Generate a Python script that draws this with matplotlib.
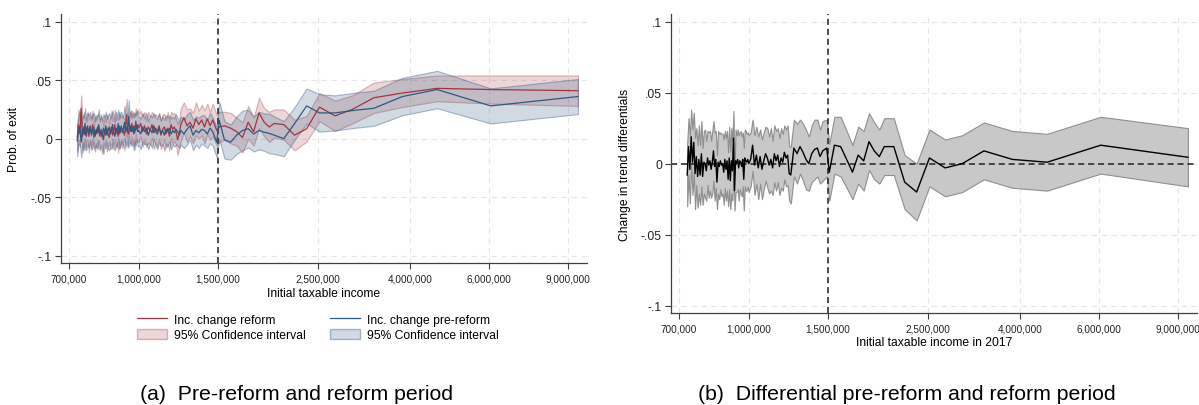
import matplotlib
matplotlib.use("Agg")
import matplotlib.pyplot as plt
from matplotlib.lines import Line2D
from matplotlib.patches import Patch
from matplotlib.ticker import NullLocator

plt.rcParams['font.family'] = ['Liberation Sans', 'DejaVu Sans']

# income bins, in thousands
income = [
    730, 735, 740, 745, 750, 755, 760, 765, 770, 775,
    780, 785, 790, 795, 800, 805, 810, 815, 820, 825,
    830, 835, 840, 845, 850, 855, 860, 865, 870, 875,
    880, 885, 890, 895, 900, 905, 910, 915, 920, 925,
    930, 935, 940, 945, 950, 955, 960, 965, 970, 975,
    980, 985, 990, 995,
    1000, 1010, 1020, 1030, 1040, 1050, 1060, 1070, 1080, 1090,
    1100, 1110, 1120, 1130, 1140, 1150, 1160, 1170, 1180, 1190,
    1200, 1210, 1220, 1230, 1240,
    1260, 1280, 1300, 1320, 1340, 1360, 1380, 1400, 1420, 1440, 1460, 1490,
    1510, 1550, 1600, 1650, 1700, 1750, 1800, 1850, 1900, 1950, 2000,
    2100, 2220, 2360, 2520, 2730, 2980, 3330, 3850, 4600, 6050, 9450,
]

# (a) reform period estimate and CI half-width
reform = [
    0.001, 0.012, 0.004, 0.026, 0.002, 0.010, 0.003, 0.008, 0.011, 0.002,
    0.009, 0.005, 0.012, 0.001, 0.007, 0.004, 0.010, 0.006, 0.002, 0.008,
    0.005, -0.001, 0.006, 0.003, 0.009, 0.004, 0.001, 0.007, 0.010, 0.003,
    0.006, 0.012, 0.004, 0.008, 0.002, 0.011, 0.005, 0.009, 0.008, 0.006,
    0.003, 0.012, 0.020, 0.007, 0.004, 0.010, 0.006, 0.013, 0.008, 0.011,
    0.005, 0.015, 0.009, 0.012,
    0.009, 0.013, 0.006, 0.011, 0.004, 0.010, 0.007, 0.012, 0.005, 0.009,
    0.006, 0.011, 0.003, 0.008, 0.010, 0.004, 0.009, 0.002, 0.012, 0.008,
    0.010, 0.006, -0.001, 0.004, 0.012,
    0.018, 0.011, 0.014, 0.009, 0.017, 0.012, 0.016, 0.010, 0.017, 0.011, 0.016, 0.007,
    0.010, 0.011, 0.009, 0.006, 0.001, 0.014, 0.006, 0.022, 0.014, 0.010, 0.013,
    0.012, 0.003, 0.0085, 0.027, 0.0195, 0.025, 0.035, 0.039, 0.043, 0.042, 0.041,
]
reform_ci = [
    0.012, 0.013, 0.011, 0.011, 0.014, 0.012, 0.013, 0.011, 0.012, 0.014,
    0.011, 0.013, 0.012, 0.010, 0.013, 0.012, 0.011, 0.014, 0.012, 0.013,
    0.011, 0.012, 0.014, 0.011, 0.012, 0.013, 0.011, 0.012, 0.014, 0.012,
    0.011, 0.013, 0.012, 0.011, 0.014, 0.012, 0.013, 0.011, 0.012, 0.012,
    0.013, 0.011, 0.014, 0.012, 0.011, 0.013, 0.012, 0.011, 0.013, 0.012,
    0.014, 0.011, 0.012, 0.013,
    0.012, 0.011, 0.013, 0.012, 0.011, 0.013, 0.012, 0.011, 0.014, 0.012,
    0.013, 0.011, 0.012, 0.013, 0.011, 0.012, 0.014, 0.012, 0.011, 0.013,
    0.012, 0.011, 0.013, 0.012, 0.014,
    0.013, 0.014, 0.012, 0.013, 0.014, 0.012, 0.013, 0.014, 0.013, 0.012, 0.014, 0.013,
    0.013, 0.012, 0.013, 0.012, 0.013, 0.014, 0.012, 0.013, 0.012, 0.013, 0.012,
    0.013, 0.013, 0.011, 0.012, 0.013, 0.012, 0.013, 0.012, 0.011, 0.012, 0.013,
]

# (a) pre-reform period estimate and CI half-width
prereform = [
    -0.002, 0.007, 0.010, -0.003, 0.008, 0.004, 0.013, 0.002, 0.009, 0.006,
    0.011, 0.003, 0.007, 0.010, 0.002, 0.008, 0.005, 0.012, 0.004, 0.006,
    0.001, 0.009, 0.005, 0.011, 0.003, 0.007, 0.010, 0.004, 0.006, 0.012,
    0.005, 0.002, 0.009, 0.006, 0.013, 0.004, 0.008, 0.011, 0.005, 0.009,
    0.014, 0.006, 0.010, 0.005, 0.019, 0.008, 0.011, 0.006, 0.009, 0.004,
    0.010, 0.007, 0.012, 0.006,
    0.007, 0.004, 0.010, 0.006, 0.009, 0.003, 0.008, 0.005, 0.011, 0.006,
    0.004, 0.009, 0.005, 0.007, 0.003, 0.008, 0.006, 0.009, 0.004, 0.007,
    0.005, 0.008, 0.006, 0.003, 0.007,
    0.004, 0.008, 0.011, 0.003, 0.007, 0.005, 0.008, 0.007, 0.004, 0.009, 0.006, -0.003,
    0.0156, -0.001, -0.003, 0.003, 0.007, 0.0085, 0.004, 0.007, 0.0055, 0.0045, 0.003,
    0.000, 0.013, 0.028, 0.022, 0.022, 0.024, 0.026, 0.036, 0.042, 0.028, 0.036,
]
prereform_ci = [
    0.013, 0.012, 0.014, 0.013, 0.012, 0.014, 0.013, 0.012, 0.013, 0.014,
    0.012, 0.013, 0.014, 0.012, 0.013, 0.012, 0.014, 0.013, 0.012, 0.013,
    0.014, 0.012, 0.013, 0.012, 0.014, 0.013, 0.012, 0.013, 0.014, 0.012,
    0.013, 0.012, 0.014, 0.013, 0.012, 0.013, 0.014, 0.012, 0.013, 0.012,
    0.014, 0.013, 0.012, 0.013, 0.014, 0.012, 0.013, 0.012, 0.013, 0.014,
    0.012, 0.013, 0.012, 0.013,
    0.012, 0.013, 0.012, 0.011, 0.013, 0.012, 0.012, 0.013, 0.011, 0.012,
    0.013, 0.012, 0.011, 0.012, 0.013, 0.012, 0.012, 0.011, 0.013, 0.012,
    0.012, 0.013, 0.012, 0.011, 0.012,
    0.012, 0.013, 0.012, 0.013, 0.012, 0.013, 0.012, 0.013, 0.012, 0.013, 0.012, 0.013,
    0.016, 0.016, 0.015, 0.016, 0.017, 0.016, 0.015, 0.016, 0.016, 0.017, 0.016,
    0.015, 0.014, 0.015, 0.016, 0.015, 0.015, 0.015, 0.016, 0.016, 0.015, 0.015,
]

# (b) change in trend differentials and CI half-width
diff = [
    -0.008, 0.012, -0.004, 0.019, 0.001, 0.015, -0.007, 0.005, -0.009, 0.003,
    -0.008, 0.007, -0.009, 0.001, 0.000, -0.005, 0.004, -0.001, 0.002, -0.004,
    0.001, 0.009, -0.002, 0.003, -0.013, 0.001, -0.002, 0.002, -0.001, 0.000,
    -0.006, 0.003, -0.004, 0.002, -0.011, 0.004, -0.012, 0.002, -0.005, 0.018,
    -0.019, 0.002, 0.000, 0.003, -0.003, 0.002, 0.001, -0.002, 0.003, -0.011,
    0.004, 0.002, 0.001, 0.003,
    0.000, 0.003, 0.013, -0.001, 0.006, -0.003, 0.005, -0.004, 0.002, 0.007,
    0.004, -0.001, 0.003, -0.003, 0.007, 0.002, 0.006, -0.002, 0.004, 0.001,
    0.008, 0.004, 0.006, -0.007, -0.008,
    0.011, 0.007, 0.012, 0.008, 0.003, 0.000, 0.007, 0.010, 0.011, 0.005, 0.009, 0.011,
    -0.006, 0.013, 0.012, 0.003, -0.006, 0.006, 0.002, 0.0155, 0.009, 0.005, 0.012,
    0.012, -0.013, -0.020, 0.004, -0.003, 0.000, 0.009, 0.003, 0.001, 0.013, 0.0045,
]
diff_ci = [
    0.022, 0.020, 0.024, 0.019, 0.023, 0.021, 0.025, 0.020, 0.022, 0.024,
    0.021, 0.023, 0.020, 0.022, 0.024, 0.021, 0.019, 0.023, 0.021, 0.020,
    0.022, 0.021, 0.024, 0.020, 0.019, 0.022, 0.023, 0.020, 0.022, 0.021,
    0.023, 0.020, 0.022, 0.021, 0.019, 0.022, 0.020, 0.023, 0.021, 0.019,
    0.014, 0.022, 0.020, 0.021, 0.023, 0.020, 0.022, 0.021, 0.019, 0.022,
    0.020, 0.021, 0.020, 0.019,
    0.020, 0.019, 0.018, 0.021, 0.020, 0.022, 0.019, 0.021, 0.020, 0.019,
    0.021, 0.020, 0.022, 0.019, 0.020, 0.021, 0.019, 0.020, 0.021, 0.020,
    0.019, 0.020, 0.021, 0.019, 0.020,
    0.020, 0.021, 0.019, 0.020, 0.021, 0.019, 0.020, 0.021, 0.020, 0.019, 0.021, 0.020,
    0.020, 0.020, 0.021, 0.020, 0.019, 0.020, 0.021, 0.020, 0.020, 0.019, 0.020,
    0.020, 0.019, 0.020, 0.020, 0.020, 0.020, 0.020, 0.020, 0.020, 0.020, 0.0205,
]

for name, s in [('reform', reform), ('reform_ci', reform_ci), ('prereform', prereform),
                ('prereform_ci', prereform_ci), ('diff', diff), ('diff_ci', diff_ci)]:
    if len(s) != len(income):
        raise ValueError(f"{name}: {len(s)} vs {len(income)}")

xticks = [700, 1000, 1500, 2500, 4000, 6000, 9000]
xtick_labels = ['700,000', '1,000,000', '1,500,000', '2,500,000', '4,000,000', '6,000,000', '9,000,000']
yticks = [-0.1, -0.05, 0, 0.05, 0.1]
ytick_labels = ['-.1', '-.05', '0', '.05', '.1']
cutoff = 1500

red = (0.63, 0.21, 0.25)
blue = (0.18, 0.35, 0.51)
red_face = red + (0.2,)
red_edge = red + (0.35,)
blue_face = blue + (0.22,)
blue_edge = blue + (0.4,)


def lo(v, h):
    return [a - b for a, b in zip(v, h)]


def hi(v, h):
    return [a + b for a, b in zip(v, h)]


def style(ax, ylim):
    ax.set_xscale('log')
    ax.set_xlim(672, 9900)
    ax.set_ylim(-ylim, ylim)
    ax.set_xticks(xticks, xtick_labels)
    ax.xaxis.set_minor_locator(NullLocator())
    ax.set_yticks(yticks, ytick_labels)
    ax.set_axisbelow(True)
    ax.grid(True, color='#e6e6e6', linestyle=(0, (5, 4)), linewidth=0.8)
    for side in ['top', 'right']:
        ax.spines[side].set_visible(False)
    for side in ['left', 'bottom']:
        ax.spines[side].set_color('#404040')
        ax.spines[side].set_linewidth(0.9)
    ax.tick_params(axis='both', direction='out', length=4.5, width=0.8, color='#404040')
    ax.tick_params(axis='x', labelsize=7.2, pad=3, labelcolor='#222222')
    ax.tick_params(axis='y', labelsize=8.7, pad=2, labelcolor='#222222')
    ax.axvline(cutoff, color='#222222', linewidth=1.1, linestyle=(0, (4, 2.5)))


fig = plt.figure(figsize=(11.99, 4.06), dpi=100)
ax1 = fig.add_axes([61 / 1199, 1 - 264.3 / 406, 526 / 1199, 249.3 / 406])
ax2 = fig.add_axes([671 / 1199, 1 - 314.3 / 406, 526 / 1199, 299.3 / 406])

# panel (a)
style(ax1, 0.1066)
ax1.fill_between(income, lo(reform, reform_ci), hi(reform, reform_ci),
                 facecolor=red_face, edgecolor=red_edge, linewidth=0.8)
ax1.fill_between(income, lo(prereform, prereform_ci), hi(prereform, prereform_ci),
                 facecolor=blue_face, edgecolor=blue_edge, linewidth=0.8)
ax1.plot(income, reform, color=red, linewidth=0.9)
ax1.plot(income, prereform, color=blue, linewidth=0.9)
ax1.set_ylabel('Prob. of exit', fontsize=8.7)
ax1.yaxis.set_label_coords(-0.077, 0.5)
ax1.set_xlabel('Initial taxable income', fontsize=8.7)
ax1.xaxis.set_label_coords(0.5, -0.095)

handles = [Line2D([], [], color=red, linewidth=0.9),
           Patch(facecolor=red_face, edgecolor=red_edge),
           Line2D([], [], color=blue, linewidth=0.9),
           Patch(facecolor=blue_face, edgecolor=blue_edge)]
labels = ['Inc. change reform', '95% Confidence interval',
          'Inc. change pre-reform', '95% Confidence interval']
fig.legend(handles, labels, ncol=2, loc='center left',
           bbox_to_anchor=(137 / 1199, 1 - 328.5 / 406), frameon=False,
           fontsize=8.7, handlelength=2.5, handleheight=0.85, handletextpad=0.55,
           columnspacing=2.0, labelspacing=0.25, borderpad=0, borderaxespad=0)

# panel (b)
style(ax2, 0.1054)
ax2.fill_between(income, lo(diff, diff_ci), hi(diff, diff_ci),
                 facecolor='#c8c8c8', edgecolor='#8f8f8f', linewidth=0.8)
ax2.axhline(0, color='#222222', linewidth=1.1, linestyle=(0, (4, 2.5)))
ax2.plot(income, diff, color='black', linewidth=1.0)
ax2.set_ylabel('Change in trend differentials', fontsize=8.7)
ax2.yaxis.set_label_coords(-0.076, 0.5)
ax2.set_xlabel('Initial taxable income in 2017', fontsize=8.7)
ax2.xaxis.set_label_coords(0.5, -0.076)

fig.text(296 / 1199, 1 - 395 / 406, '(a)  Pre-reform and reform period',
         fontsize=15.3, ha='center', va='center')
fig.text(907 / 1199, 1 - 395 / 406, '(b)  Differential pre-reform and reform period',
         fontsize=15.3, ha='center', va='center')

fig.savefig('out.png', dpi=100)
